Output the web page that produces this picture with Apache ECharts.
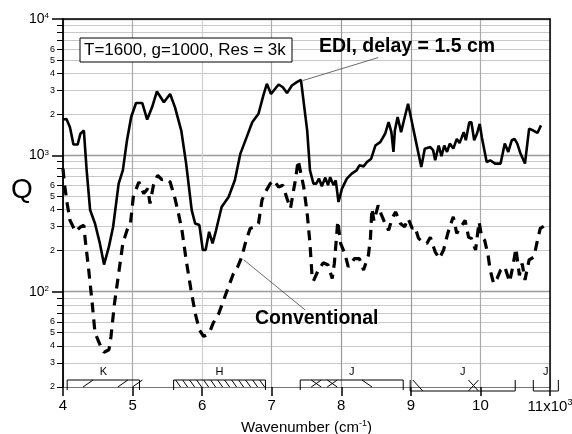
<!DOCTYPE html>
<html><head><meta charset="utf-8">
<script src="https://cdn.jsdelivr.net/npm/echarts@6/dist/echarts.min.js"></script>
<style>html,body{margin:0;padding:0;background:#fff}#c{width:572px;height:434px}</style>
</head><body><div id="c"></div><script>
// ---- data (wavenumber in 10^3 cm^-1, Q values) ----
const ediX = [4.00,4.05,4.10,4.15,4.21,4.25,4.30,4.34,4.39,4.46,
  4.53,4.59,4.66,4.72,4.80,4.86,4.92,4.98,5.05,5.14,
  5.21,5.28,5.35,5.45,5.54,5.61,5.70,5.77,5.85,5.90,
  5.96,6.01,6.05,6.10,6.15,6.20,6.28,6.38,6.47,6.55,
  6.64,6.72,6.81,6.88,6.93,6.99,7.05,7.10,7.16,7.22,
  7.29,7.36,7.42,7.44,7.51,7.55,7.60,7.64,7.68,7.72,
  7.77,7.81,7.84,7.89,7.92,7.96,8.01,8.08,8.15,8.22,
  8.26,8.32,8.37,8.43,8.49,8.56,8.63,8.68,8.72,8.75,
  8.77,8.81,8.86,8.90,8.96,9.00,9.06,9.15,9.20,9.28,
  9.32,9.35,9.40,9.44,9.48,9.52,9.56,9.61,9.66,9.70,
  9.76,9.79,9.84,9.87,9.91,9.95,9.99,10.02,10.09,10.14,
  10.21,10.29,10.35,10.40,10.45,10.49,10.53,10.57,10.64,10.70,
  10.76,10.82,10.87];
const ediQ = [1830,1850,1610,1200,1200,1440,1520,775,397,316,
  226,158,214,298,620,775,1290,1910,2420,2420,
  1830,2250,2940,2450,2820,2250,1520,870,397,316,
  308,202,202,275,226,282,418,495,656,1030,
  1360,1750,2020,2750,3350,2820,3080,3310,3160,2860,
  3250,3440,3580,3540,1520,775,620,620,675,593,
  687,603,692,603,656,455,570,675,735,776,
  845,830,893,946,1180,1250,1440,1750,1480,1060,
  1520,1910,1480,1800,2390,1910,1360,821,1120,1150,
  1090,920,1180,985,1180,1060,1220,1120,1320,1230,
  1480,1290,1750,1750,1290,1440,1700,1360,893,920,
  870,870,1220,1060,1290,1320,1220,1050,870,1570,
  1520,1460,1660];
const convX = [4.00,4.02,4.06,4.10,4.18,4.25,4.30,4.32,4.37,4.42,
  4.46,4.54,4.59,4.66,4.69,4.74,4.80,4.86,4.92,4.97,
  5.01,5.09,5.16,5.22,5.25,5.30,5.36,5.42,5.48,5.54,
  5.61,5.66,5.71,5.77,5.84,5.90,5.96,6.02,6.06,6.12,
  6.16,6.24,6.31,6.38,6.45,6.51,6.57,6.62,6.69,6.76,
  6.81,6.86,6.91,6.98,7.03,7.10,7.16,7.22,7.27,7.31,
  7.34,7.38,7.42,7.46,7.51,7.55,7.58,7.60,7.67,7.74,
  7.81,7.87,7.90,7.95,7.99,8.05,8.10,8.19,8.26,8.32,
  8.39,8.42,8.44,8.47,8.53,8.57,8.63,8.68,8.73,8.78,
  8.85,8.91,8.96,9.02,9.06,9.11,9.17,9.23,9.28,9.35,
  9.41,9.47,9.53,9.57,9.61,9.66,9.70,9.75,9.78,9.83,
  9.87,9.93,9.98,10.02,10.06,10.11,10.14,10.19,10.24,10.29,
  10.35,10.42,10.47,10.51,10.56,10.60,10.64,10.70,10.77,10.82,
  10.86,10.91];
const convQ = [800,620,444,334,276,298,307,239,144,82,
  50,40,36,37.5,47,82,136,226,282,316,
  495,638,525,570,444,603,714,664,675,638,
  482,374,282,171,103,69.5,52.5,47,48,52.5,
  59,69.5,87,109,136,152,180,226,291,299,
  316,469,540,621,656,586,603,482,408,540,
  656,920,735,586,374,226,129,120,144,163,
  157,125,161,330,226,191,152,175,175,144,
  185,251,408,330,430,374,316,282,344,385,
  316,299,344,291,299,246,232,226,251,196,
  175,202,267,310,354,267,291,316,334,251,
  246,202,325,251,239,185,144,115,125,144,
  152,118,157,208,132,161,122,171,180,239,
  291,302];

// axis ticks
const xTicks = [4,5,6,7,8,9,10,11];
const qMin = 20, qMax = 10000;
const minorTickQ = [20,30,40,50,60,70,80,90,200,300,400,500,600,700,800,900,2000,3000,4000,5000,6000,7000,8000,9000];
const minorLabelQ = [20,30,40,50,60,200,300,400,500,600,2000,3000,4000,5000,6000];
const decadeQ = [100,1000,10000];

// spectral band markers
const bandLabel = ['K','H','J','J','J'];
const bandFrom  = [4.06, 5.59, 7.41, 8.99, 10.76];
const bandTo    = [5.10, 6.91, 8.89, 10.50, 11.12];
const bandShape = ['cap','cap','cap','cup','cup'];
const bandHatch = [false,true,false,false,false];
const bandMarks = [[['/',4.36],['/',4.86],['/',5.07]], [], [['x',7.64],['x',7.87],['\\',8.37]], [['\\',9.10],['x',9.90]], []];

// annotations
const ediLeader = [[7.45, 3540],[8.53, 5210]];
const convLeader = [[6.60, 171],[7.48, 73.5]];

const FONT = '"Liberation Sans", Arial, Helvetica, sans-serif';
const L = Math.log10;
const yMin = L(qMin), yMax = L(qMax);

const chart = echarts.init(document.getElementById('c'), null, {renderer:'canvas'});

function renderBand(params, api) {
  const i = api.value(2);
  const cs = params.coordSys;
  const base = cs.y + cs.height;
  const xa = api.coord([api.value(0), yMin])[0];
  const xb = api.coord([api.value(1), yMin])[0];
  const top = base - 7;
  const cup = bandShape[i] === 'cup';
  const bot = cup ? base + 4 : base + 3;
  const mb = cup ? bot : base;
  const ls = {stroke:'#000', lineWidth:1};
  const line = (x1,y1,x2,y2) => ({type:'line', shape:{x1:x1,y1:y1,x2:x2,y2:y2}, style:ls});
  const ch = [];
  if (cup) ch.push(line(xa,bot,xb,bot)); else ch.push(line(xa,top,xb,top));
  ch.push(line(xa,top,xa,bot), line(xb,top,xb,bot));
  if (bandHatch[i]) for (let x = xa + 2; x + 5 <= xb; x += 7) ch.push(line(x, top, x + 5, mb));
  bandMarks[i].forEach(function (m) {
    const cx = api.coord([m[1], yMin])[0];
    if (m[0] === '/') ch.push(line(cx-5, mb, cx+5, top));
    else if (m[0] === '\\') ch.push(line(cx-5, top, cx+5, mb));
    else ch.push(line(cx-5, top, cx+5, mb), line(cx-5, mb, cx+5, top));
  });
  ch.push({type:'text', x:(xa+xb)/2, y:top-8, style:{text:bandLabel[i], align:'center', verticalAlign:'middle', fontSize:11, fontFamily:FONT, fill:'#000'}});
  return {type:'group', children:ch};
}

const supRich = {
  a:{fontSize:14, fontFamily:FONT, color:'#000', verticalAlign:'bottom'},
  s:{fontSize:8, fontFamily:FONT, color:'#000', verticalAlign:'bottom', padding:[0,0,6,0]}
};
const xRich = {
  a:{fontSize:15, fontFamily:FONT, color:'#000', verticalAlign:'bottom'},
  s:{fontSize:9, fontFamily:FONT, color:'#000', verticalAlign:'bottom', padding:[0,0,7,0]}
};

const option = {
  animation:false,
  textStyle:{fontFamily:FONT},
  grid:{left:63, right:22, top:19, bottom:47, containLabel:false, outerBoundsMode:'none'},
  xAxis:[{
    type:'value', min:4, max:11, interval:1, position:'bottom',
    axisLine:{show:true, onZero:false, lineStyle:{color:'#777', width:1}},
    axisTick:{show:true, inside:false, length:9, lineStyle:{color:'#000', width:1.5}},
    axisLabel:{margin:11, showMaxLabel:true, showMinLabel:true, hideOverlap:false,
      formatter:function(v){ return v === xTicks[xTicks.length-1] ? '{a|11x10}{s|3}' : '{a|' + v + '}'; }, rich:xRich},
    splitLine:{show:true, lineStyle:{color:['#aaa','#aaa','#cfcfcf','#aaa','#999','#999','#aaa','#aaa'], width:1.2}},
    name:'{a|Wavenumber (cm}{s|-1}{a|)}', nameLocation:'middle', nameGap:27,
    nameTextStyle:{rich:xRich}
  },{
    type:'value', min:4, max:11, position:'top',
    axisLine:{show:true, onZero:false, lineStyle:{color:'#000', width:1.5}},
    axisTick:{show:false}, axisLabel:{show:false}, splitLine:{show:false}
  }],
  yAxis:[{
    type:'value', min:yMin, max:yMax, position:'left',
    axisLine:{show:true, onZero:false, lineStyle:{color:'#000', width:1.8}},
    axisTick:{show:true, inside:false, length:6, customValues:minorTickQ.map(L), lineStyle:{color:'#000', width:1}},
    axisLabel:{customValues:minorLabelQ.map(L), margin:8, fontSize:9, color:'#000', hideOverlap:false,
      formatter:function(v){ const q = Math.pow(10, v); return String(Math.round(q / Math.pow(10, Math.floor(v + 1e-9)))); }},
    splitLine:{show:true, lineStyle:{color:'#c8c8c8', width:1}}
  },{
    type:'value', min:yMin, max:yMax, position:'left',
    axisLine:{show:false},
    axisTick:{show:true, inside:false, length:11, customValues:decadeQ.map(L), lineStyle:{color:'#000', width:1.5}},
    axisLabel:{customValues:decadeQ.map(L), margin:14, hideOverlap:false,
      formatter:function(v){ return '{a|10}{s|' + Math.round(v) + '}'; }, rich:supRich},
    splitLine:{show:true, lineStyle:{color:'#9a9a9a', width:1.3}}
  },{
    type:'value', min:yMin, max:yMax, position:'right',
    axisLine:{show:true, onZero:false, lineStyle:{color:'#000', width:1.5}},
    axisTick:{show:false}, axisLabel:{show:false}, splitLine:{show:false}
  }],
  graphic:[
    {type:'rect', shape:{x:80, y:38, width:212, height:24}, style:{fill:'#fff', stroke:'#000', lineWidth:1}, z:100},
    {type:'text', x:84, y:50.5, z:101, style:{text:'T=1600, g=1000, Res = 3k', fontSize:17, fontFamily:FONT, fill:'#000', align:'left', verticalAlign:'middle'}},
    {type:'text', x:319, y:47, z:101, style:{text:'EDI, delay = 1.5 cm', fontSize:19.5, fontWeight:'bold', fontFamily:FONT, fill:'#000', align:'left', verticalAlign:'middle'}},
    {type:'text', x:255, y:319, z:101, style:{text:'Conventional', fontSize:19.5, fontWeight:'bold', fontFamily:FONT, fill:'#000', align:'left', verticalAlign:'middle'}},
    {type:'text', x:22, y:190, z:101, style:{text:'Q', fontSize:28, fontFamily:FONT, fill:'#000', align:'center', verticalAlign:'middle'}}
  ],
  series:[{
    name:'EDI, delay = 1.5 cm', type:'line', xAxisIndex:0, yAxisIndex:0,
    data: ediX.map(function(x,i){ return [x, L(ediQ[i])]; }),
    showSymbol:false, symbol:'none', lineStyle:{color:'#000', width:2.6}, z:5,
    markLine:{silent:true, symbol:['none','none'], label:{show:false}, lineStyle:{color:'#444', width:0.8, type:'solid'},
      data:[[{coord:[ediLeader[0][0], L(ediLeader[0][1])]}, {coord:[ediLeader[1][0], L(ediLeader[1][1])]}]]}
  },{
    name:'Conventional', type:'line', xAxisIndex:0, yAxisIndex:0,
    data: convX.map(function(x,i){ return [x, L(convQ[i])]; }),
    showSymbol:false, symbol:'none', lineStyle:{color:'#000', width:3.2, type:[10,7]}, z:4,
    markLine:{silent:true, symbol:['none','none'], label:{show:false}, lineStyle:{color:'#444', width:0.8, type:'solid'},
      data:[[{coord:[convLeader[0][0], L(convLeader[0][1])]}, {coord:[convLeader[1][0], L(convLeader[1][1])]}]]}
  },{
    name:'bands', type:'custom', xAxisIndex:0, yAxisIndex:0, clip:false, silent:true, z:6,
    renderItem:renderBand,
    encode:{x:[0,1], y:3},
    data: bandFrom.map(function(f,i){ return [f, bandTo[i], i, yMin]; })
  }]
};
chart.setOption(option);
</script></body></html>
